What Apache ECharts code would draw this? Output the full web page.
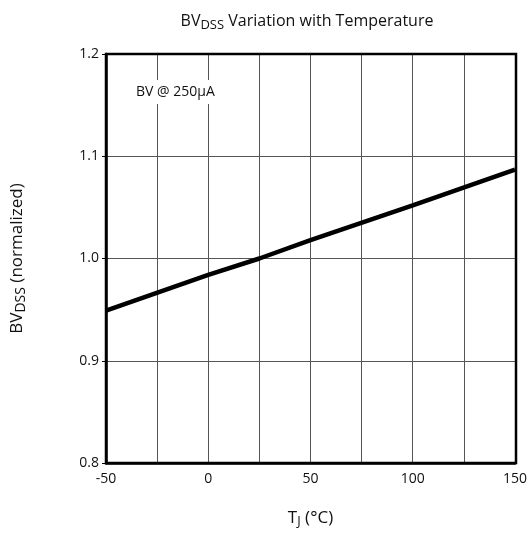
<!DOCTYPE html>
<html><head><meta charset="utf-8">
<script src="https://cdn.jsdelivr.net/npm/echarts@6/dist/echarts.min.js"></script>
<style>html,body{margin:0;padding:0;background:#fff}#c{width:530px;height:533px}</style>
</head><body><div id="c"></div>
<script>
const temps = [-50, 0, 25, 50, 100, 150];
const bvNorm = [0.949, 0.984, 1.0, 1.018, 1.052, 1.087];
const xTicks = [-50, 0, 50, 100, 150];
const yTicks = [0.8, 0.9, 1.0, 1.1, 1.2];
const F = '"Open Sans", "Noto Sans", sans-serif';
const chart = echarts.init(document.getElementById('c'));
chart.setOption({
  animation: false,
  title: {
    text: '{a|BV}{s|DSS}{a| Variation with Temperature}',
    left: 302, top: 6, textAlign: 'center',
    textStyle: { fontWeight: 'normal', rich: {
      a: { fontSize: 16, fontFamily: F, color: '#111', fontWeight: 'normal' },
      s: { fontSize: 13, fontFamily: F, color: '#111', fontWeight: 'normal', verticalAlign: 'bottom', padding: [8,0,0,0] }
    } }
  },
  grid: { left: 106, right: 14, top: 54, bottom: 70 },
  xAxis: {
    type: 'value', min: -50, max: 150, interval: 25,
    axisLine: { show: true, onZero: false, lineStyle: { color: '#000', width: 2.5 } },
    axisTick: { show: false },
    axisLabel: { fontSize: 14, fontFamily: F, color: '#111', margin: 9,
      formatter: v => xTicks.includes(v) ? String(v) : '' },
    splitLine: { show: true, lineStyle: { color: '#555', width: 1 } },
    name: '{a|T}{s|J}{a| (°C)}', nameLocation: 'middle', nameGap: 45,
    nameTextStyle: { rich: {
      a: { fontSize: 17, fontFamily: F, color: '#111' },
      s: { fontSize: 13, fontFamily: F, color: '#111', verticalAlign: 'bottom', padding: [7,0,0,0] }
    } }
  },
  yAxis: {
    type: 'value', min: 0.8, max: 1.2, interval: 0.1,
    axisLine: { show: true, onZero: false, lineStyle: { color: '#000', width: 2.5 } },
    axisTick: { show: true, length: 4, lineStyle: { color: '#000', width: 1 } },
    axisLabel: { fontSize: 14, fontFamily: F, color: '#111', margin: 7,
      formatter: v => v.toFixed(1) },
    splitLine: { show: true, lineStyle: { color: '#555', width: 1 } },
    name: '{a|BV}{s|DSS}{a| (normalized)}', nameLocation: 'middle', nameGap: 78, nameRotate: 90,
    nameTextStyle: { rich: {
      a: { fontSize: 17, fontFamily: F, color: '#111' },
      s: { fontSize: 14, fontFamily: F, color: '#111', verticalAlign: 'bottom', padding: [8,0,0,0] }
    } }
  },
  series: [{
    type: 'line', data: temps.map((t, i) => [t, bvNorm[i]]),
    showSymbol: false, lineStyle: { color: '#000', width: 4.5 }, z: 5
  }],
  graphic: [{
    type: 'text', left: 134, top: 80, z: 10,
    style: { text: 'BV @ 250µA', fontSize: 14, fontFamily: F, fill: '#111',
      backgroundColor: '#fff', padding: [5, 2] }
  }, {
    type: 'rect', shape: { x: 106, y: 54, width: 410, height: 409 },
    style: { fill: 'none', stroke: '#000', lineWidth: 2.5 }, z: 20, silent: true
  }]
});
</script></body></html>
